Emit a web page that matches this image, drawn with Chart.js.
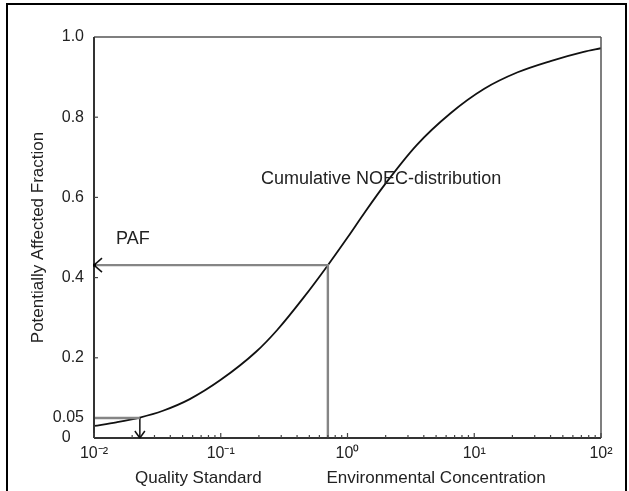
<!DOCTYPE html>
<html>
<head>
<meta charset="utf-8">
<script src="https://cdn.jsdelivr.net/npm/chart.js@4.4.0/dist/chart.umd.min.js"></script>
<style>
  html, body { margin: 0; padding: 0; background: #fff; overflow: hidden; }
  #wrap { position: relative; width: 629px; height: 491px; }
  #frame { position: absolute; left: 6px; top: 3px; width: 617px; height: 520px;
           border: 2px solid #000; border-bottom: none; pointer-events: none; }
</style>
</head>
<body>
<div id="wrap">
  <canvas id="chart" width="629" height="491"></canvas>
  <div id="frame"></div>
</div>
<script>
// cumulative NOEC distribution
const conc = [0.01, 0.015, 0.023, 0.035, 0.057, 0.1, 0.19, 0.28, 0.45, 0.7, 1.0, 1.35, 2.0, 3.5, 6.5, 12, 22, 40, 73, 100];
const affected = [0.03, 0.039, 0.051, 0.068, 0.097, 0.145, 0.215, 0.27, 0.35, 0.431, 0.50, 0.56, 0.635, 0.73, 0.81, 0.871, 0.912, 0.94, 0.963, 0.972];

// quality standard and environmental concentration
const qsConc = 0.023, qsPaf = 0.05;
const envConc = 0.7, envPaf = 0.431;

const xTicks = [0.01, 0.1, 1, 10, 100];
const xTickLabels = ['10\u207B\u00B2', '10\u207B\u00B9', '10\u2070', '10\u00B9', '10\u00B2'];
const minorSteps = [2, 3, 4, 5, 6, 7, 8, 9];
const yTicks = [0, 0.05, 0.2, 0.4, 0.6, 0.8, 1.0];
const yTickLabels = ['0   ', '0.05', '0.2', '0.4', '0.6', '0.8', '1.0'];
const yInnerTicks = [0.2, 0.4, 0.6, 0.8];

const FONT = '"Liberation Sans", Arial, sans-serif';

function line(ctx, x1, y1, x2, y2) {
  ctx.beginPath(); ctx.moveTo(x1, y1); ctx.lineTo(x2, y2); ctx.stroke();
}

const decor = {
  id: 'decor',
  afterDraw(chart) {
    const {ctx, chartArea: a, scales: {x, y}} = chart;
    ctx.save();
    // frame of the plot
    ctx.strokeStyle = '#555'; ctx.lineWidth = 1.5;
    line(ctx, a.left, a.top, a.right, a.top);
    line(ctx, a.right, a.top, a.right, a.bottom);
    ctx.strokeStyle = '#333'; ctx.lineWidth = 2;
    line(ctx, a.left, a.top, a.left, a.bottom);
    line(ctx, a.left, a.bottom, a.right, a.bottom);

    // inward ticks
    ctx.lineWidth = 1.2; ctx.strokeStyle = '#444';
    yInnerTicks.forEach(v => line(ctx, a.left, y.getPixelForValue(v), a.left + 4, y.getPixelForValue(v)));
    xTicks.forEach((d, i) => {
      const px = x.getPixelForValue(d);
      line(ctx, px, a.bottom, px, a.bottom - 5);
      if (i < xTicks.length - 1) {
        minorSteps.forEach(m => {
          const p = x.getPixelForValue(d * m);
          line(ctx, p, a.bottom, p, a.bottom - 3);
        });
      }
    });

    // arrow heads
    ctx.strokeStyle = '#111'; ctx.lineWidth = 1.5;
    const tx = x.getPixelForValue(0.01), ty = y.getPixelForValue(envPaf);
    line(ctx, tx, ty, tx + 8, ty - 7);
    line(ctx, tx, ty, tx + 8, ty + 7);
    ctx.fillStyle = '#000';
    ctx.fillRect(tx - 1, ty - 1.5, 3, 3);
    const ax = x.getPixelForValue(qsConc), ay = y.getPixelForValue(0);
    line(ctx, ax, ay, ax - 5, ay - 7);
    line(ctx, ax, ay, ax + 5, ay - 7);

    // annotations
    ctx.fillStyle = '#222';
    ctx.font = '18px ' + FONT;
    ctx.textBaseline = 'middle';
    ctx.textAlign = 'left';
    ctx.fillText('PAF', a.left + 22, y.getPixelForValue(0.495));
    ctx.fillText('Cumulative NOEC-distribution', x.getPixelForValue(0.208), y.getPixelForValue(0.645));
    ctx.font = '17px ' + FONT;
    ctx.textAlign = 'center';
    ctx.fillText('Quality Standard', x.getPixelForValue(0.0665), 478);
    ctx.fillText('Environmental Concentration', x.getPixelForValue(5.0), 478);
    ctx.restore();
  }
};

new Chart(document.getElementById('chart'), {
  type: 'scatter',
  data: {
    datasets: [
      {
        data: [{x: 0.01, y: envPaf}, {x: envConc, y: envPaf}, {x: envConc, y: 0}],
        showLine: true, borderColor: '#858585', borderWidth: 2.4, pointRadius: 0
      },
      {
        data: [{x: 0.01, y: qsPaf}, {x: qsConc, y: qsPaf}],
        showLine: true, borderColor: '#858585', borderWidth: 2.4, pointRadius: 0
      },
      {
        data: [{x: qsConc, y: qsPaf}, {x: qsConc, y: 0}],
        showLine: true, borderColor: '#111', borderWidth: 1.5, pointRadius: 0
      },
      {
        label: 'Cumulative NOEC-distribution',
        data: conc.map((c, i) => ({x: c, y: affected[i]})),
        showLine: true, borderColor: '#111', borderWidth: 1.8, pointRadius: 0,
        cubicInterpolationMode: 'monotone'
      }
    ]
  },
  options: {
    responsive: false,
    devicePixelRatio: 1,
    animation: false,
    layout: {padding: {top: 37, right: 28, left: 0, bottom: 0}},
    plugins: {legend: {display: false}, tooltip: {enabled: false}},
    scales: {
      x: {
        type: 'logarithmic', min: 0.01, max: 100,
        grid: {display: false, drawTicks: false}, border: {display: false},
        afterBuildTicks: s => { s.ticks = xTicks.map(v => ({value: v})); },
        afterFit: s => { s.height = 53; },
        ticks: {
          autoSkip: false, maxRotation: 0, padding: 6, color: '#222',
          font: {family: FONT, size: 16},
          callback: (v, i) => xTickLabels[i]
        }
      },
      y: {
        min: 0, max: 1,
        grid: {display: false, drawTicks: false}, border: {display: false},
        afterBuildTicks: s => { s.ticks = yTicks.map(v => ({value: v})); },
        afterFit: s => { s.width = 94; },
        ticks: {
          autoSkip: false, padding: 10, color: '#222',
          font: {family: FONT, size: 16},
          callback: (v, i) => yTickLabels[i]
        },
        title: {
          display: true, text: 'Potentially Affected Fraction', color: '#222',
          font: {family: FONT, size: 17}, padding: {top: 28, bottom: 0}
        }
      }
    }
  },
  plugins: [decor]
});
</script>
</body>
</html>
